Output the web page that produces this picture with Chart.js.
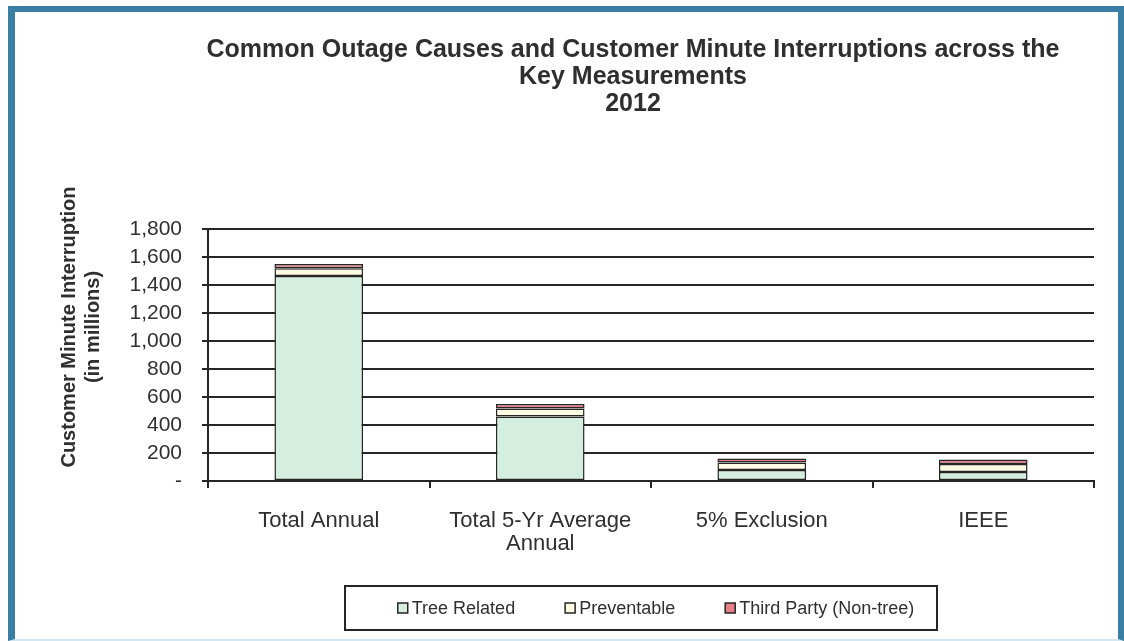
<!DOCTYPE html>
<html>
<head>
<meta charset="utf-8">
<script src="https://cdn.jsdelivr.net/npm/chart.js@4.4.0/dist/chart.umd.min.js"></script>
<style>
    html, body { margin: 0; padding: 0; background: #fff; }
    #frame {
        position: absolute; left: 8px; top: 6px;
        width: 1103px; height: 627px;
        border-style: solid;
        border-width: 6px 6px 2px 7px;
        border-color: #3b7ea3 #3b7ea3 #d3e7f2 #3b7ea3;
    }
    canvas { display: block; }
</style>
</head>
<body>
<div id="frame"><canvas id="outageChart" width="1103" height="627"></canvas></div>
<script>
// Customer minute interruptions (millions) per measurement, 2012
const categories = ['Total Annual', ['Total 5-Yr Average', 'Annual'], '5% Exclusion', 'IEEE'];
const treeRelated = [1465, 460, 78, 65];
const preventable = [55, 58, 55, 56];
const thirdParty = [30, 32, 28, 32];
const yTicks = [0, 200, 400, 600, 800, 1000, 1200, 1400, 1600, 1800];

const titleLines = ['Common Outage Causes and Customer Minute Interruptions across the', 'Key Measurements', '2012'];
const yTitleLines = ['Customer Minute Interruption', '(in millions)'];

const FONT = '"Liberation Sans", Arial, Helvetica, sans-serif';
const INK = '#2f2f2f';
const LINE = '#262626';

// title, rotated y title and the boxed legend
const decor = {
    id: 'decor',
    afterLayout(chart) {
        // shift the title so it sits a little left of the plot centre
        const t = chart.titleBlock;
        const dx = 618 - (t.left + t.right) / 2;
        t.left += dx;
        t.right += dx;
    },
    afterDraw(chart) {
        const ctx = chart.ctx;
        ctx.save();

        // y axis title, two centred lines
        ctx.font = 'bold 20px ' + FONT;
        ctx.fillStyle = INK;
        ctx.textAlign = 'center';
        ctx.textBaseline = 'middle';
        ctx.translate(54, 315);
        ctx.rotate(-Math.PI / 2);
        ctx.fillText(yTitleLines[0], 0, 0);
        ctx.fillText(yTitleLines[1], 0, 24);
        ctx.setTransform(1, 0, 0, 1, 0, 0);

        // legend frame
        const boxW = 592, boxH = 44;
        const boxX = 626 - boxW / 2;
        const boxY = chart.height - 9 - boxH;
        ctx.lineWidth = 2;
        ctx.strokeStyle = LINE;
        ctx.strokeRect(boxX, boxY, boxW, boxH);

        // legend entries
        const sw = 10, gap = 50;
        ctx.font = '18px ' + FONT;
        ctx.textAlign = 'left';
        const items = chart.data.datasets.map(ds => ({
            label: ds.label, fill: ds.backgroundColor,
            w: sw + 4 + ctx.measureText(ds.label).width
        }));
        const total = items.reduce((s, it) => s + it.w, 0) + gap * (items.length - 1);
        let x = 641 - total / 2;
        const cy = boxY + boxH / 2;
        items.forEach(it => {
            ctx.fillStyle = it.fill;
            ctx.fillRect(x, cy - sw / 2, sw, sw);
            ctx.lineWidth = 1.5;
            ctx.strokeStyle = LINE;
            ctx.strokeRect(x, cy - sw / 2, sw, sw);
            ctx.fillStyle = INK;
            ctx.fillText(it.label, x + sw + 4, cy + 1);
            x += it.w + gap;
        });
        ctx.restore();
    }
};

const barStyle = {
    borderColor: LINE,
    borderWidth: 1.5,
    borderSkipped: false,
    barPercentage: 0.4,
    categoryPercentage: 1.0
};

new Chart(document.getElementById('outageChart'), {
    type: 'bar',
    data: {
        labels: categories,
        datasets: [
            { label: 'Tree Related', data: treeRelated, backgroundColor: '#d4efdf', ...barStyle },
            { label: 'Preventable', data: preventable, backgroundColor: '#fdfbe2', ...barStyle },
            { label: 'Third Party (Non-tree)', data: thirdParty, backgroundColor: '#e5808a', ...barStyle }
        ]
    },
    options: {
        responsive: false,
        animation: false,
        layout: { padding: { left: 100, right: 24, top: 0, bottom: 53 } },
        plugins: {
            legend: { display: false },
            tooltip: { enabled: false },
            title: {
                display: true,
                text: titleLines,
                color: INK,
                font: { family: FONT, size: 25, weight: 'bold', lineHeight: 1.08 },
                padding: { top: 25, bottom: 111 }
            }
        },
        scales: {
            x: {
                stacked: true,
                afterFit(scale) { scale.height = 105; },
                grid: {
                    display: true, drawOnChartArea: false, offset: true,
                    tickLength: 7, color: LINE, lineWidth: 2
                },
                border: { display: true, color: LINE, width: 2 },
                ticks: {
                    color: INK, padding: 21, maxRotation: 0,
                    font: { family: FONT, size: 22, lineHeight: 1.05 }
                }
            },
            y: {
                stacked: true,
                min: 0,
                max: 1800,
                afterFit(scale) { scale.width = 93; },
                afterBuildTicks(scale) { scale.ticks = yTicks.map(v => ({ value: v })); },
                grid: { color: LINE, lineWidth: 2, tickLength: 6 },
                border: { display: true, color: LINE, width: 2 },
                ticks: {
                    color: INK, padding: 20, autoSkip: false,
                    font: { family: FONT, size: 21 },
                    callback: v => v === 0 ? '-' : v.toLocaleString('en-US')
                }
            }
        }
    },
    plugins: [decor]
});
</script>
</body>
</html>
